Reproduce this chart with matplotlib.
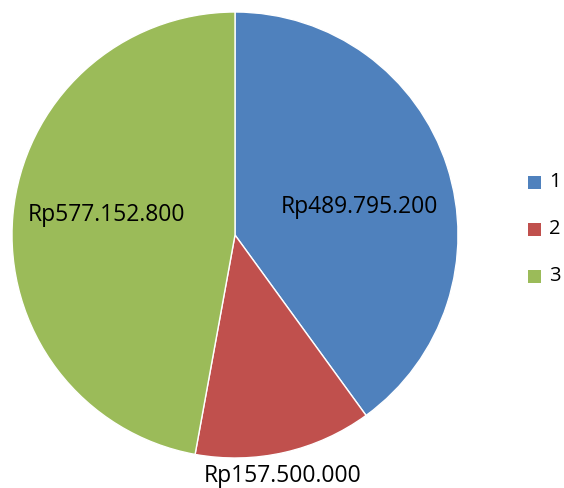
import matplotlib
matplotlib.use("Agg")
import matplotlib.pyplot as plt
from matplotlib.patches import Rectangle

categories = ["1", "2", "3"]
values = [489795200, 157500000, 577152800]
labels = ["Rp489.795.200", "Rp157.500.000", "Rp577.152.800"]
colors = ["#4F81BD", "#C0504D", "#9BBB59"]

plt.rcParams['font.family'] = ['Open Sans', 'DejaVu Sans']

W, H = 564, 488
fig = plt.figure(figsize=(W / 100, H / 100), dpi=100)
ax = fig.add_axes([12 / W, (H - 458) / H, 446 / W, 446 / H])
wedges, _ = ax.pie(values, colors=colors, startangle=90, counterclock=False,
                   radius=1.0, wedgeprops=dict(edgecolor="white", linewidth=1))
ax.set_xlim(-1, 1)
ax.set_ylim(-1, 1)
ax.set_aspect("equal")
ax.axis("off")

label_pos = [(0.556, 0.126), (0.215, -1.081), (-0.578, 0.09)]
for (x, y), t in zip(label_pos, labels):
    ax.text(x, y, t, ha="center", va="center", fontsize=16.5, color="black",
            clip_on=False)

# legend drawn manually (figure pixel layout)
row_y = [182, 229, 276]
sq = 13
for w, cat, yc in zip(wedges, categories, row_y):
    fig.add_artist(Rectangle(((528) / W, (H - yc - sq / 2) / H), sq / W, sq / H,
                             transform=fig.transFigure,
                             facecolor=w.get_facecolor(), edgecolor="none"))
    fig.text(549 / W, (H - yc) / H, cat, ha="left", va="center",
             fontsize=14.5, color="black")

fig.savefig("out.png", dpi=100)
